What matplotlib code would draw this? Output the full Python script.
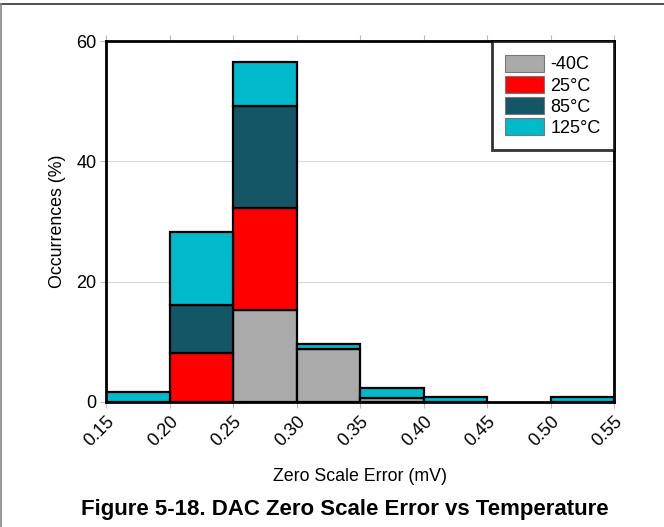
import matplotlib
matplotlib.use("Agg")
import matplotlib.pyplot as plt
from matplotlib.lines import Line2D
from matplotlib.patches import Patch
import numpy as np

plt.rcParams['font.family'] = ['Liberation Sans', 'DejaVu Sans']

bin_edges = [0.15, 0.20, 0.25, 0.30, 0.35, 0.40, 0.45, 0.50, 0.55]
series_labels = ['-40C', '25°C', '85°C', '125°C']
vals_m40 = [0, 0, 15.3, 8.8, 0.6, 0, 0, 0]
vals_25 = [0, 8.1, 16.9, 0, 0, 0, 0, 0]
vals_85 = [0, 8.0, 17.0, 0, 0, 0, 0, 0]
vals_125 = [1.6, 12.2, 7.3, 0.8, 1.7, 0.8, 0, 0.8]
colors = ['#AAAAAA', '#FF0000', '#145566', '#00B9CB']
xticks = ['0.15', '0.20', '0.25', '0.30', '0.35', '0.40', '0.45', '0.50', '0.55']

fig = plt.figure(figsize=(6.64, 5.27), dpi=100)
ax = fig.add_axes([106/664, 1-402/527, 508/664, 361/527])

lefts = np.array(bin_edges[:-1])
width = 0.05
bottom = np.zeros(len(lefts))
for vals, c, lab in zip([vals_m40, vals_25, vals_85, vals_125], colors, series_labels):
    v = np.array(vals, dtype=float)
    mask = v > 0
    ax.bar(lefts[mask], v[mask], width=width, bottom=bottom[mask], align='edge',
           color=c, edgecolor='black', linewidth=1.6, zorder=3)
    bottom += v

ax.set_xlim(0.15, 0.55)
ax.set_ylim(0, 60)
ax.set_xticks([float(t) for t in xticks])
ax.set_xticklabels(xticks, rotation=45, ha='right', va='top', rotation_mode='anchor')
ax.set_yticks([0, 20, 40, 60])
ax.tick_params(axis='both', labelsize=13, color='#BBBBBB', length=4, width=0.8,
               direction='out', pad=3)
ax.tick_params(axis='x', top=True, pad=4)
ax.yaxis.grid(True, color='#D9D9D9', linewidth=0.8, zorder=0)
ax.set_axisbelow(True)
for s in ax.spines.values():
    s.set_linewidth(2.0)
    s.set_color('black')
    s.set_zorder(5)

ax.set_xlabel('Zero Scale Error (mV)', fontsize=12.8, labelpad=13)
ax.set_ylabel('Occurrences (%)', fontsize=12.8, labelpad=7)

handles = [Patch(facecolor=c, edgecolor='#777777', linewidth=0.8) for c in colors]
leg = ax.legend(handles, series_labels, loc='upper right', borderaxespad=0,
                fontsize=13, frameon=True, fancybox=False, edgecolor='black',
                handlelength=2.15, handleheight=1.12, labelspacing=0.12,
                handletextpad=0.35, borderpad=0.75)
leg.get_frame().set_linewidth(2.0)
leg.set_zorder(6)

fig.text(0.52, 1-509/527, 'Figure 5-18. DAC Zero Scale Error vs Temperature',
         ha='center', va='center', fontsize=16, fontweight='bold')

fig.add_artist(Line2D([0, 1], [1-4/527, 1-4/527], color='#333333', linewidth=1.2,
                      transform=fig.transFigure))
fig.add_artist(Line2D([1/664, 1/664], [0, 1-4/527], color='#888888', linewidth=1.2,
                      transform=fig.transFigure))

fig.savefig('out.png', dpi=100)
